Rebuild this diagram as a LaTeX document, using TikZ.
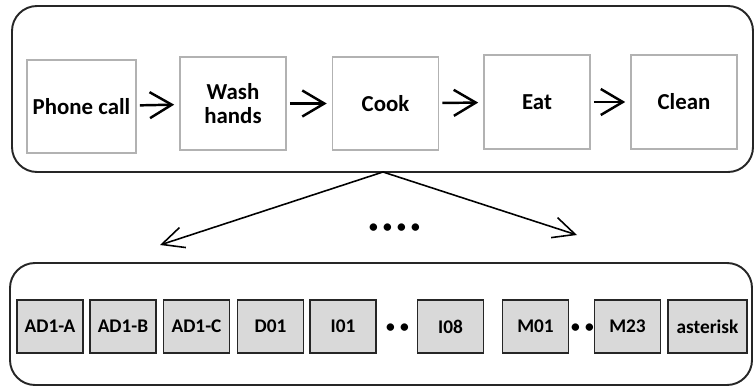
\documentclass[tikz,border=0pt]{standalone}
\usepackage{fontspec}
\setmainfont{Carlito}
\usepackage{tikz}
\usetikzlibrary{arrows.meta}

\begin{document}
\begin{tikzpicture}[
    frame/.style={draw=black!85, line width=1.1pt, rounded corners=0.5cm},
    task/.style={draw=gray!60, line width=0.9pt, fill=white, minimum width=2.12cm, minimum height=1.87cm, align=center, font=\fontsize{13}{14}\bfseries},
    code/.style={draw=black!85, line width=1.1pt, fill=black!15, minimum width=1.32cm, minimum height=1.06cm, font=\fontsize{11}{12}\bfseries},
    arr/.style={-{Straight Barb[length=0.44cm, width=0.52cm]}, line width=1.4pt, shorten <=0.06cm, shorten >=0.1cm},
    split/.style={-{Straight Barb[length=0.44cm, width=0.42cm]}, line width=0.9pt}
]
\useasboundingbox (0,0) rectangle (15.1,7.76);

% Activity sequence
\node[frame, minimum width=14.82cm, minimum height=3.32cm] (top) at (7.65, 5.98) {};
\node[task] (phone) at (1.63, 5.63) {Phone call};
\node[task] (wash) at (4.66, 5.69) {Wash\\hands};
\node[task] (cook) at (7.71, 5.69) {Cook};
\node[task] (eat) at (10.74, 5.72) {Eat};
\node[task] (clean) at (13.68, 5.72) {Clean};

\draw[arr] (phone) -- (wash);
\draw[arr] (wash) -- (cook);
\draw[arr] (cook) -- (eat);
\draw[arr] (eat) -- (clean);

% Cook splits into sensor codes
\coordinate (fork) at (7.66, 4.32);
\coordinate (lefttip) at (3.2, 2.86);
\coordinate (righttip) at (11.54, 3.06);
\draw[split] (fork) -- (lefttip);
\draw[split] (fork) -- (righttip);
\node[font=\fontsize{10}{12}\bfseries] (more) at (7.89, 3.2) {\textbullet\kern3pt\textbullet\kern3pt\textbullet\kern3pt\textbullet};

% Code row
\node[frame, minimum width=14.84cm, minimum height=2.44cm] (bottom) at (7.62, 1.28) {};
\node[code] (ad1a) at (1.0, 1.23) {AD1-A};
\node[code] (ad1b) at (2.46, 1.23) {AD1-B};
\node[code] (ad1c) at (3.93, 1.23) {AD1-C};
\node[code] (d01) at (5.41, 1.23) {D01};
\node[code] (i01) at (6.86, 1.23) {I01};
\node[font=\fontsize{10}{12}\bfseries] (idots) at (7.95, 1.2) {\textbullet\kern3pt\textbullet};
\node[code] (i08) at (9.01, 1.23) {I08};
\node[code] (m01) at (10.71, 1.23) {M01};
\node[font=\fontsize{10}{12}\bfseries] (mdots) at (11.65, 1.2) {\textbullet\kern3pt\textbullet};
\node[code] (m23) at (12.55, 1.23) {M23};
\node[code, minimum width=1.58cm] (ast) at (14.15, 1.23) {asterisk};
\end{tikzpicture}
\end{document}
